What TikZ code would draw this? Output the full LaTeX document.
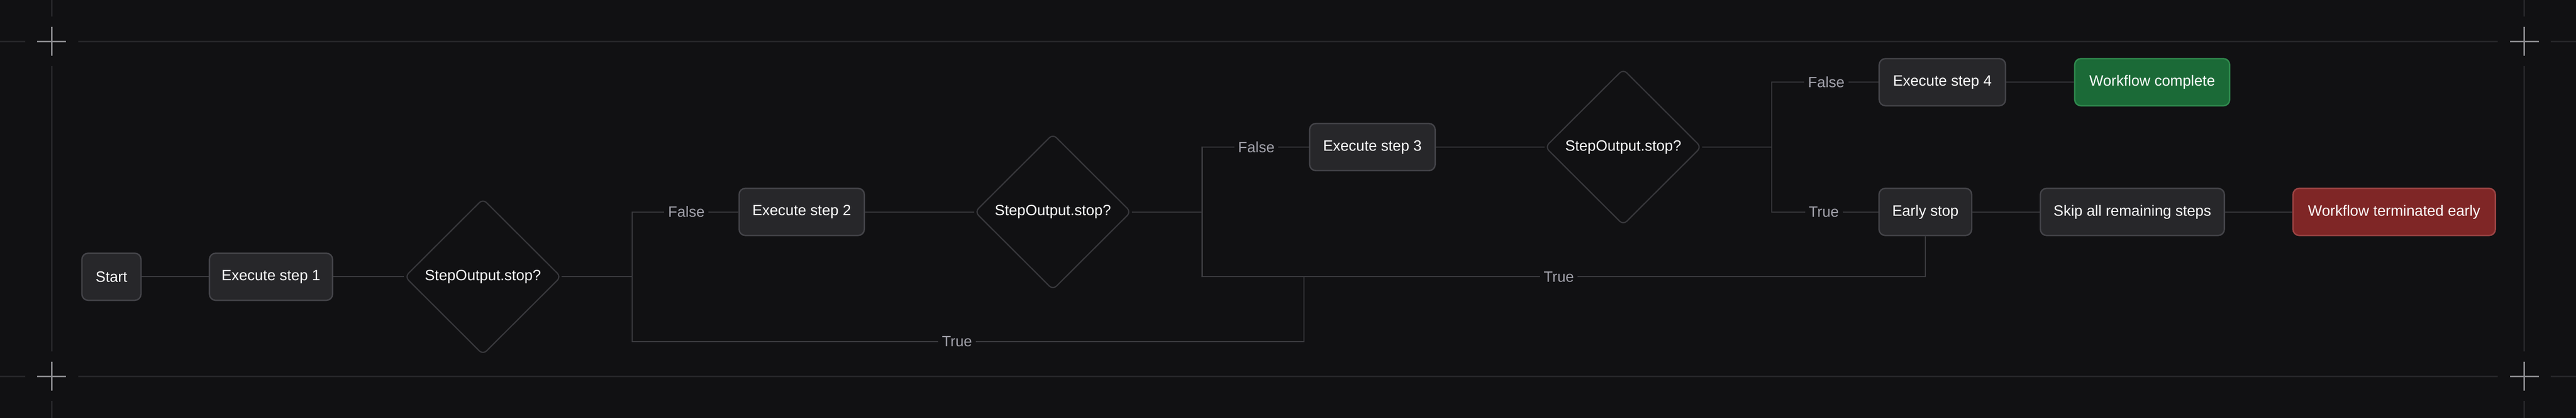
\documentclass[tikz,border=0pt]{standalone}
\usepackage{fontspec}
\setmainfont{Liberation Sans}
\usetikzlibrary{shapes.geometric}

\definecolor{bg}{RGB}{17,17,19}
\definecolor{framecol}{RGB}{39,39,42}
\definecolor{crosscol}{RGB}{138,138,142}
\definecolor{wirecol}{RGB}{58,58,62}
\definecolor{boxfill}{RGB}{39,39,42}
\definecolor{boxline}{RGB}{68,68,73}
\definecolor{diamline}{RGB}{56,56,60}
\definecolor{lbltext}{RGB}{161,161,170}
\definecolor{okfill}{RGB}{27,106,55}
\definecolor{okline}{RGB}{48,138,78}
\definecolor{badfill}{RGB}{127,38,38}
\definecolor{badline}{RGB}{156,68,68}

\begin{document}
\begin{tikzpicture}
\tikzset{ txt/.style={font=\fontsize{12}{14}\selectfont},
  box/.style={txt, draw=boxline, fill=boxfill, line width=1.1pt, rounded corners=5pt,
              minimum height=1.33cm, inner sep=0pt, text=white},
  decision/.style={txt, diamond, draw=diamline, fill=bg, line width=1pt, rounded corners=4pt,
              minimum width=4.42cm, minimum height=4.40cm, inner sep=0pt, text=white},
  lbl/.style={txt, fill=bg, text=lbltext, inner sep=0.1cm},
  wire/.style={draw=wirecol, line width=0.85pt},
  frameline/.style={draw=framecol, line width=1.1pt},
  crossmark/.style={draw=crosscol, line width=1.1pt},
}
\useasboundingbox (0,0) rectangle (72.81,11.79);
\fill[bg] (0,0) rectangle (72.81,11.79);

% frame
\foreach \y in {1.17,10.62} {
  \draw[frameline] (0,\y) -- (0.71,\y);
  \draw[frameline] (2.21,\y) -- (70.60,\y);
  \draw[frameline] (72.10,\y) -- (72.81,\y);
}
\foreach \x in {1.46,71.35} {
  \draw[frameline] (\x,0) -- (\x,0.47);
  \draw[frameline] (\x,1.87) -- (\x,9.92);
  \draw[frameline] (\x,11.32) -- (\x,11.79);
  \foreach \y in {1.17,10.62} {
    \draw[crossmark] (\x-0.41,\y) -- (\x+0.41,\y);
    \draw[crossmark] (\x,\y-0.41) -- (\x,\y+0.41);
  }
}

% nodes
\node [box, minimum width=1.67cm] (start) at (3.15,3.98) {Start};
\node [box, minimum width=3.48cm] (step1) at (7.66,3.98) {Execute step 1};
\node [decision] (dec1) at (13.65,3.98) {StepOutput.stop?};

\node [box, minimum width=3.54cm] (step2) at (22.66,5.81) {Execute step 2};
\node [decision] (dec2) at (29.76,5.81) {StepOutput.stop?};

\node [box, minimum width=3.55cm] (step3) at (38.79,7.64) {Execute step 3};
\node [decision] (dec3) at (45.88,7.64) {StepOutput.stop?};

\node [box, minimum width=3.57cm] (step4) at (54.90,9.47) {Execute step 4};
\node [box, minimum width=4.38cm, fill=okfill, draw=okline] (done) at (60.83,9.47) {Workflow complete};

\node [box, minimum width=2.62cm] (early) at (54.42,5.81) {Early stop};
\node [box, minimum width=5.20cm] (skip) at (60.27,5.81) {Skip all remaining steps};
\node [box, minimum width=5.72cm, fill=badfill, draw=badline] (term) at (67.67,5.81) {Workflow terminated early};

% branch points
\coordinate (b1) at (17.87,3.98);
\coordinate (b2) at (33.98,5.81);
\coordinate (b3) at (50.08,7.64);
\coordinate (j1) at (36.85,3.98);

% edge labels
\node [lbl] (f1) at (19.40,5.81) {False};
\node [lbl] (t1) at (27.05,2.15) {True};
\node [lbl] (f2) at (35.51,7.64) {False};
\node [lbl] (t2) at (44.06,3.98) {True};
\node [lbl] (f3) at (51.62,9.47) {False};
\node [lbl] (t3) at (51.55,5.81) {True};

% connectors
\draw [wire] (start) -- (step1);
\draw [wire] (step1) -- (dec1);
\draw [wire] (dec1) -- (b1);
\draw [wire] (b1) |- (f1);
\draw [wire] (f1) -- (step2);
\draw [wire] (b1) |- (t1);
\draw [wire] (t1) -| (j1);

\draw [wire] (step2) -- (dec2);
\draw [wire] (dec2) -- (b2);
\draw [wire] (b2) |- (f2);
\draw [wire] (f2) -- (step3);
\draw [wire] (b2) |- (t2);
\draw [wire] (t2) -| (early);

\draw [wire] (step3) -- (dec3);
\draw [wire] (dec3) -- (b3);
\draw [wire] (b3) |- (f3);
\draw [wire] (f3) -- (step4);
\draw [wire] (b3) |- (t3);
\draw [wire] (t3) -- (early);

\draw [wire] (step4) -- (done);
\draw [wire] (early) -- (skip);
\draw [wire] (skip) -- (term);

\end{tikzpicture}
\end{document}
